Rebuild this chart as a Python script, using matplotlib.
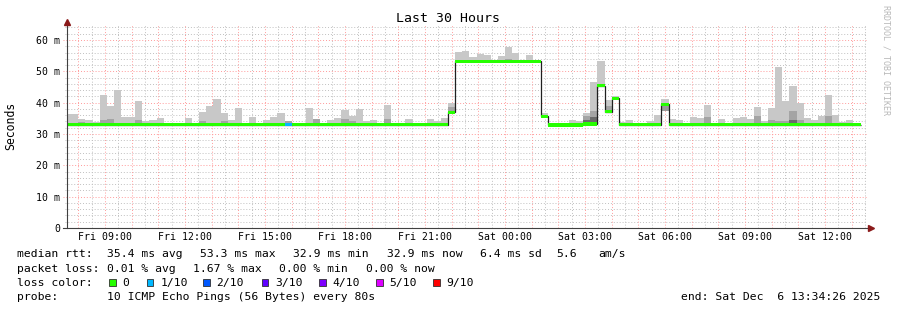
import numpy as np
import matplotlib.pyplot as plt
from matplotlib.patches import Rectangle

W, H = 897, 310
plt.rcParams['font.family'] = ['DejaVu Sans Mono']

# time axis in hours since Fri 00:00, graph covers 30 h up to Sat 13:34:26
t_end = 24 + 13 + 34 / 60 + 26 / 3600
t_start = t_end - 30
bin_start = 7 + 28 / 60      # first 16 min bin starts Fri 07:28
bin_width = 16 / 60

# median rtt per bin (ms)
median = ([33.0] * 54 + [36.9] + [53.2] * 12 + [35.6] + [32.9] * 5
          + [33.2, 33.2, 45.4, 37.1, 41.4] + [33.0] * 6 + [39.5] + [33.0] * 27)

# top of the light smoke per bin (ms)
smoke_hi = [
    36.4, 36.4, 34.8, 34.4, 33.7, 42.4, 39.0, 44.0, 35.5, 35.3,
    40.5, 34.1, 34.5, 35.1, 33.5, 33.5, 33.6, 35.1, 33.6, 36.9,
    38.9, 41.2, 36.8, 34.5, 38.3, 33.5, 35.5, 33.5, 34.5, 35.5,
    36.8, 34.2, 33.5, 33.5, 38.3, 34.7, 33.5, 34.5, 35.2, 37.7,
    35.9, 38.0, 34.1, 34.5, 33.5, 39.3, 33.6, 33.3, 34.8, 33.4,
    33.5, 34.8, 34.2, 35.2, 40.0, 56.1, 56.5, 54.7, 55.5, 55.2,
    53.6, 54.9, 57.7, 55.8, 53.6, 55.2, 53.6, 36.6, 33.2, 33.3,
    33.5, 34.5, 34.0, 36.8, 46.7, 53.3, 40.9, 42.1, 33.9, 34.5,
    33.6, 33.4, 34.2, 36.1, 41.2, 34.8, 34.5, 33.4, 35.3, 35.0,
    39.3, 33.4, 34.8, 33.6, 35.2, 35.5, 34.8, 38.7, 34.3, 38.4,
    51.5, 40.5, 45.3, 39.8, 35.2, 34.5, 35.9, 42.4, 36.1, 33.9,
    34.4, 33.3,
]

# denser smoke near the median (bin -> top)
smoke_mid = {2: 33.9, 5: 34.4, 6: 34.8, 10: 34.4, 19: 34.2, 22: 34.2, 31: 34.2,
             35: 34.7, 39: 34.8, 40: 34.0, 45: 34.8, 54: 38.5, 62: 53.9, 73: 35.7,
             74: 37.2, 75: 46.0, 76: 39.0, 90: 35.5, 97: 35.7, 99: 34.5, 100: 34.0,
             101: 34.3, 102: 37.3, 103: 34.5, 107: 35.7}
smoke_dark = {73: 34.5, 74: 35.5, 102: 34.4}
smoke_low = {84: 37.5}
loss_bins = {31: 1}

loss_labels = ['0', '1/10', '2/10', '3/10', '4/10', '5/10', '9/10']
loss_colors = ['#26ff00', '#00b8ff', '#0059ff', '#5e00ff', '#7e00ff', '#dd00ff', '#ff0000']

tick_hours = [9, 12, 15, 18, 21, 24, 27, 30, 33, 36]


def px(x, y):
    return x / W, 1 - y / H


fig = plt.figure(figsize=(W / 100, H / 100), dpi=100)
fig.patch.set_facecolor('white')
ax = fig.add_axes([67 / W, 1 - 228 / H, 800 / W, 65 * 3.1333 / H])
ax.set_xlim(t_start, t_end)
ax.set_ylim(0, 65)
for s in ax.spines.values():
    s.set_visible(False)

# grid
ext = 4 / 26.667
for v in np.arange(2, 65, 2):
    if v % 10:
        ax.hlines(v, t_start - ext * 0.5, t_end, color='#c0c0c0', lw=0.7,
                  linestyles=(0, (1, 2)), clip_on=False, zorder=0)
for h in np.arange(8, 38, 0.5):
    if h % 1:
        ax.vlines(h, 0, 65, color='#c0c0c0', lw=0.7, linestyles=(0, (1, 2)), zorder=0)
for v in range(10, 61, 10):
    ax.hlines(v, t_start - ext, t_end, color='#ff9a9a', lw=0.7,
              linestyles=(0, (1, 2)), clip_on=False, zorder=0)
for h in range(8, 38):
    ax.vlines(h, 0, 65, color='#ff9a9a', lw=0.7, linestyles=(0, (1, 2)), zorder=0)

# smoke
n = len(median)
edges = bin_start + bin_width * np.arange(n + 1)
med = np.array(median)
hi = np.array(smoke_hi)
ax.bar(edges[:-1], hi - med, bottom=med, width=bin_width, align='edge',
       color='#c8c8c8', lw=0, zorder=1)
for i, top in smoke_mid.items():
    ax.bar(edges[i], top - med[i], bottom=med[i], width=bin_width, align='edge',
           color='#a4a4a4', lw=0, zorder=1)
for i, top in smoke_dark.items():
    ax.bar(edges[i], top - med[i], bottom=med[i], width=bin_width, align='edge',
           color='#6a6a6a', lw=0, zorder=1)
for i, low in smoke_low.items():
    ax.bar(edges[i], med[i] - low, bottom=low, width=bin_width, align='edge',
           color='#9a9a9a', lw=0, zorder=1)

# median line with loss colour band
ax.stairs(med, edges, baseline=None, color='#202020', lw=0.9, zorder=2)
band_colors = [loss_colors[loss_bins.get(i, 0)] for i in range(n)]
ax.bar(edges[:-1], 1.05, bottom=med - 0.52, width=bin_width, align='edge',
       color=band_colors, lw=0, zorder=3)

# axes with arrows
ax.plot([t_start - ext, t_end + 0.1], [0, 0], color='#404040', lw=0.8,
        clip_on=False, zorder=4)
ax.plot([t_start, t_start], [0, 65.5], color='#404040', lw=0.8,
        clip_on=False, zorder=4)
ax.plot(t_end + 0.15, 0, marker='>', ms=4, color='#8b1a1a', clip_on=False, zorder=5)
ax.plot(t_start, 65.6, marker='^', ms=4, color='#8b1a1a', clip_on=False, zorder=5)

ax.set_yticks(range(0, 61, 10))
ax.set_yticklabels(['0'] + ['%d m' % v for v in range(10, 61, 10)])
ax.set_xticks(tick_hours)
ax.set_xticklabels(['%s %02d:00' % ('Fri' if h < 24 else 'Sat', h % 24) for h in tick_hours])
ax.tick_params(axis='y', length=0, pad=5, labelsize=7.1, colors='#000000')
ax.tick_params(axis='x', length=0, pad=2.8, labelsize=7.1, colors='#000000')

# titles
fig.text(*px(448, 19), 'Last 30 Hours', ha='center', va='center', fontsize=9.5)
fig.text(*px(11, 126), 'Seconds', ha='center', va='center', rotation=90, fontsize=8.3)
fig.text(*px(886, 60), 'RRDTOOL / TOBI OETIKER', ha='center', va='center',
         rotation=-90, fontsize=6, color='#b8b8b8')

# legend
fs = 8.2
rows = [254.3, 268.7, 282.7, 296.7]
line1 = [(16.7, 'median rtt:'), (107.3, '35.4 ms avg'), (200, '53.3 ms max'),
         (293.3, '32.9 ms min'), (386.7, '32.9 ms now'), (480, '6.4 ms sd'),
         (556.7, '5.6'), (598.3, 'am/s')]
line2 = [(16.7, 'packet loss:'), (107.3, '0.01 % avg'), (193.3, '1.67 % max'),
         (279.3, '0.00 % min'), (365.7, '0.00 % now')]
for x, s in line1:
    fig.text(*px(x, rows[0]), s, ha='left', va='center', fontsize=fs)
for x, s in line2:
    fig.text(*px(x, rows[1]), s, ha='left', va='center', fontsize=fs)
fig.text(*px(16.7, rows[2]), 'loss color:', ha='left', va='center', fontsize=fs)
box_x = [109, 146.7, 203, 261.7, 319, 376, 433]
for bx, lab, col in zip(box_x, loss_labels, loss_colors):
    fig.patches.append(Rectangle(px(bx, rows[2] + 3.2), 6.5 / W, 6.5 / H,
                                 transform=fig.transFigure, facecolor=col,
                                 edgecolor='#303030', lw=0.6))
    fig.text(*px(bx + 13.5, rows[2]), lab, ha='left', va='center', fontsize=fs)
fig.text(*px(16.7, rows[3]), 'probe:', ha='left', va='center', fontsize=fs)
fig.text(*px(107.3, rows[3]), '10 ICMP Echo Pings (56 Bytes) every 80s',
         ha='left', va='center', fontsize=fs)
fig.text(*px(880, rows[3]), 'end: Sat Dec  6 13:34:26 2025', ha='right',
         va='center', fontsize=fs)

fig.savefig('out.png', dpi=100, facecolor='white')
